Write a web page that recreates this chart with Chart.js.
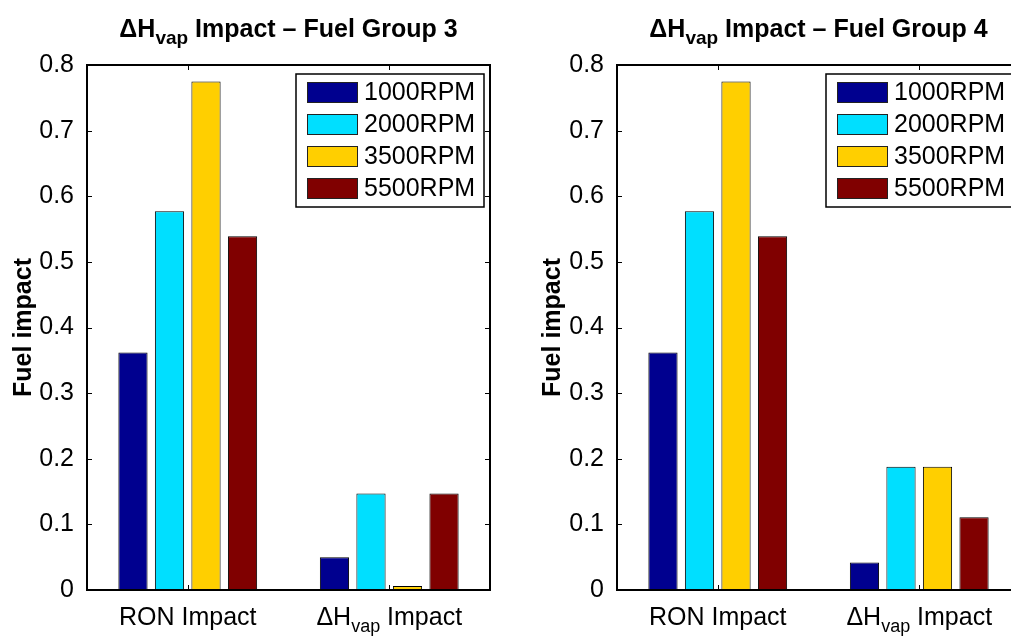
<!DOCTYPE html>
<html>
<head>
<meta charset="utf-8">
<script src="https://cdn.jsdelivr.net/npm/chart.js@4"></script>
<style>
  html, body { margin: 0; padding: 0; background: #fff; }
  body { width: 1011px; height: 637px; overflow: hidden; position: relative; }
  #left, #right { position: absolute; top: 0; }
  #left { left: 0; }
  #right { left: 505px; }
</style>
</head>
<body>
<div id="left"><canvas id="g3" width="505" height="637"></canvas></div>
<div id="right"><canvas id="g4" width="530" height="637"></canvas></div>
<script>
const FONT = "'Liberation Sans', Arial, Helvetica, sans-serif";

// categories on the x axis (second one carries a subscript)
const categories = ["RON Impact", "ΔHvap Impact"];
const categoryParts = [
  [{ t: "RON Impact" }],
  [{ t: "ΔH" }, { t: "vap", sub: true }, { t: " Impact" }]
];

const rpmLabels = ["1000RPM", "2000RPM", "3500RPM", "5500RPM"];
const rpmColors = ["#00008f", "#00dfff", "#ffcf00", "#800000"];

// fuel group 3
const g3_1000 = [0.362, 0.050];
const g3_2000 = [0.577, 0.147];
const g3_3500 = [0.775, 0.006];
const g3_5500 = [0.539, 0.147];

// fuel group 4
const g4_1000 = [0.362, 0.042];
const g4_2000 = [0.577, 0.188];
const g4_3500 = [0.775, 0.188];
const g4_5500 = [0.539, 0.111];

const yTicks = [0, 0.1, 0.2, 0.3, 0.4, 0.5, 0.6, 0.7, 0.8];
const yTickLabels = ["0", "0.1", "0.2", "0.3", "0.4", "0.5", "0.6", "0.7", "0.8"];

// draws a run of text pieces, subscripts shifted down, centred on cx
function drawParts(ctx, parts, cx, baseY, size, subSize, subShift, weight) {
  const fontFor = p => `${weight} ${p.sub ? subSize : size}px ${FONT}`;
  let total = 0;
  parts.forEach(p => { ctx.font = fontFor(p); total += ctx.measureText(p.t).width; });
  let x = cx - total / 2;
  ctx.textAlign = "left";
  ctx.textBaseline = "alphabetic";
  parts.forEach(p => {
    ctx.font = fontFor(p);
    ctx.fillText(p.t, x, p.sub ? baseY + subShift : baseY);
    x += ctx.measureText(p.t).width;
  });
}

// matlab style box, inward ticks, legend, title and category labels
const matlabAxes = {
  id: "matlabAxes",
  afterDatasetsDraw(chart) {
    const { ctx, chartArea: a, scales: { x, y } } = chart;
    ctx.save();
    ctx.strokeStyle = "#000";
    ctx.lineWidth = 1;
    ctx.beginPath();
    y.ticks.forEach((t, i) => {
      const py = Math.round(y.getPixelForTick(i)) + 0.5;
      ctx.moveTo(a.left, py); ctx.lineTo(a.left + 5, py);
      ctx.moveTo(a.right, py); ctx.lineTo(a.right - 5, py);
    });
    categories.forEach((c, i) => {
      const px = Math.round(x.getPixelForValue(i)) + 0.5;
      ctx.moveTo(px, a.bottom); ctx.lineTo(px, a.bottom - 5);
      ctx.moveTo(px, a.top); ctx.lineTo(px, a.top + 5);
    });
    ctx.stroke();

    ctx.lineWidth = 2;
    ctx.strokeRect(a.left, a.top, a.right - a.left, a.bottom - a.top);

    // legend
    const bx = a.right - 194, by = a.top + 9, bw = 188, bh = 133;
    ctx.fillStyle = "#fff";
    ctx.fillRect(bx, by, bw, bh);
    ctx.lineWidth = 1.5;
    ctx.strokeRect(bx, by, bw, bh);
    ctx.font = `25px ${FONT}`;
    ctx.textAlign = "left";
    ctx.textBaseline = "middle";
    chart.data.datasets.forEach((ds, i) => {
      const cy = by + 18 + i * 32;
      ctx.fillStyle = ds.backgroundColor;
      ctx.fillRect(bx + 11, cy - 10, 51, 21);
      ctx.lineWidth = 1;
      ctx.strokeStyle = "#222";
      ctx.strokeRect(bx + 11.5, cy - 9.5, 50, 20);
      ctx.fillStyle = "#000";
      ctx.fillText(ds.label, bx + 68, cy + 1);
    });
    ctx.restore();
  },
  afterDraw(chart, args, opts) {
    const { ctx, chartArea: a, scales: { x } } = chart;
    ctx.save();
    ctx.fillStyle = "#000";
    const titleParts = [{ t: "ΔH" }, { t: "vap", sub: true }, { t: " Impact – Fuel Group " + opts.group }];
    drawParts(ctx, titleParts, (a.left + a.right) / 2, 37, 25, 19, 7, "bold");
    categoryParts.forEach((parts, i) => {
      drawParts(ctx, parts, x.getPixelForValue(i), 625, 25, 18, 7, "normal");
    });
    ctx.restore();
  }
};

function makeChart(id, series, group, axisWidth, titlePad) {
  return new Chart(document.getElementById(id), {
    type: "bar",
    data: {
      labels: categories,
      datasets: series.map((vals, i) => ({
        label: rpmLabels[i],
        data: vals,
        backgroundColor: rpmColors[i],
        borderColor: "#000",
        borderWidth: 1,
        categoryPercentage: 0.725,
        barPercentage: 0.8
      }))
    },
    options: {
      responsive: false,
      animation: false,
      devicePixelRatio: 1,
      layout: { padding: { left: 0, right: 15, top: 65, bottom: 0 } },
      plugins: {
        legend: { display: false },
        tooltip: { enabled: false },
        matlabAxes: { group: group }
      },
      scales: {
        x: {
          grid: { display: false },
          border: { display: false },
          ticks: { display: false },
          afterFit: s => { s.height = 47; }
        },
        y: {
          min: 0,
          max: 0.8,
          afterBuildTicks: s => { s.ticks = yTicks.map(v => ({ value: v })); },
          grid: { display: false },
          border: { display: false },
          ticks: {
            color: "#000",
            padding: 5,
            font: { family: FONT, size: 25 },
            callback: (v, i) => yTickLabels[i]
          },
          title: {
            display: true,
            text: "Fuel impact",
            color: "#000",
            font: { family: FONT, size: 25, weight: "bold" },
            padding: { top: titlePad, bottom: 0 }
          },
          afterFit: s => { s.width = axisWidth; }
        }
      }
    },
    plugins: [matlabAxes]
  });
}

makeChart("g3", [g3_1000, g3_2000, g3_3500, g3_5500], 3, 87, 9);
makeChart("g4", [g4_1000, g4_2000, g4_3500, g4_5500], 4, 112, 33);
</script>
</body>
</html>
